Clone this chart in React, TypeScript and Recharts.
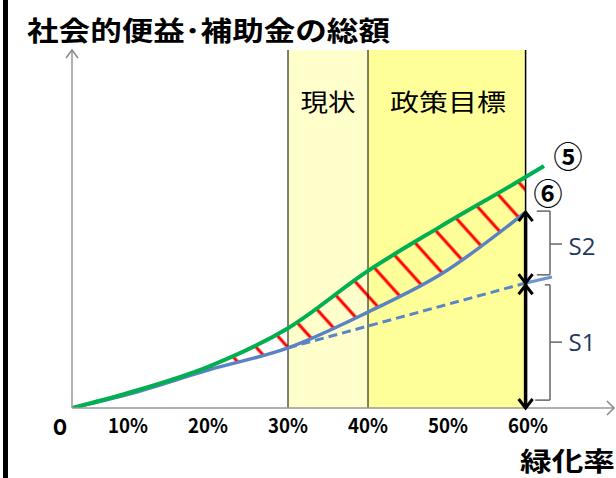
import { Area, ComposedChart, Line, ReferenceArea, ReferenceDot, ReferenceLine, XAxis, YAxis } from 'recharts'

// 緑化率 (%) sample points and the two curves (arbitrary units, 0-100)
const pct = [3, 10, 20, 30, 40, 49, 59.7]
const benefit = [0, 4.2, 11.5, 22.3, 38.3, 50.6, 64.5] // ⑤ 社会的便益
const subsidy = [0, 3.8, 10.6, 16.8, 26.8, 37.2, 54.7] // ⑥ 補助金
const benefitTail = [{ x: 62, y: 67.6 }]
const trendPct = [30, 59.7]
const trend = [16.8, 34.9]
const trendTailPct = [59.7, 63]
const trendTail = [34.9, 36.6]
const tickPct = [10, 20, 30, 40, 50, 60]
const hatchFrom = 2 // hatching starts at 20%

const greenData = pct.map((x, i) => ({ x, y: benefit[i] })).concat(benefitTail)
const blueData = pct.map((x, i) => ({ x, y: subsidy[i] }))
const dashData = trendPct.map((x, i) => ({ x, y: trend[i] }))
const dashTail = trendTailPct.map((x, i) => ({ x, y: trendTail[i] }))
const hatchData = pct.slice(hatchFrom).map((x, i) => ({ x, range: [subsidy[i + hatchFrom], benefit[i + hatchFrom]] }))

const JP = '"Noto Sans CJK JP", sans-serif'

const Tick = ({ x, y, payload }: any) => (
  <text x={x} y={y + 25} textAnchor="middle" fontFamily={JP} fontWeight={700} fontSize={20} fill="#000" textLength={40} lengthAdjust="spacingAndGlyphs">
    {payload.value}%
  </text>
)

const head = (dir: 'up' | 'down' | 'right', color = '#000', w = 3, s = 7) => (p: any) => {
  const { cx, cy } = p
  let d = ''
  if (dir === 'up') d = `M${cx - s} ${cy + s + 2} L${cx} ${cy} L${cx + s} ${cy + s + 2}`
  if (dir === 'down') d = `M${cx - s} ${cy - s - 2} L${cx} ${cy} L${cx + s} ${cy - s - 2}`
  if (dir === 'right') d = `M${cx - s} ${cy - s} L${cx} ${cy} L${cx - s} ${cy + s}`
  return <path d={d} fill="none" stroke={color} strokeWidth={w} />
}

const note = (txt: string, size: number, len: number | undefined, color = '#000', family = JP, weight = 400) => (p: any) => (
  <text x={p.cx} y={p.cy} textAnchor="middle" dominantBaseline="central" fontFamily={family} fontWeight={weight} fontSize={size} fill={color} textLength={len} lengthAdjust={len ? 'spacingAndGlyphs' : undefined}>
    {txt}
  </text>
)

const brace = '#666'
const seg = (x1: number, y1: number, x2: number, y2: number, key: string) => (
  <ReferenceLine key={key} segment={[{ x: x1, y: y1 }, { x: x2, y: y2 }]} stroke={brace} strokeWidth={1.5} ifOverflow="visible" />
)

export default function App() {
  return (
    <div style={{ position: 'absolute', left: 0, top: 0, width: 616, height: 478, background: '#fff' }}>
      <ComposedChart width={616} height={478} margin={{ top: 50, right: 2, bottom: 40, left: 60 }}>
        <XAxis
          dataKey="x"
          type="number"
          domain={[3, 70.75]}
          allowDataOverflow
          ticks={tickPct}
          tick={<Tick />}
          tickLine={false}
          tickSize={0}
          tickMargin={0}
          height={30}
          axisLine={{ stroke: '#999', strokeWidth: 1.5 }}
        />
        <YAxis type="number" domain={[0, 100]} allowDataOverflow tick={false} tickLine={false} width={12} axisLine={{ stroke: '#999', strokeWidth: 1.5 }} />
        <ReferenceArea x1={30} x2={40} y1={0} y2={100} fill="#FFFFCC" fillOpacity={1} stroke="none" />
        <ReferenceArea x1={40} x2={59.7} y1={0} y2={100} fill="#FFFF99" fillOpacity={1} stroke="none" />
        <ReferenceLine x={30} stroke="#000" strokeWidth={1} />
        <ReferenceLine x={40} stroke="#000" strokeWidth={1} />
        <ReferenceLine x={59.7} stroke="#000" strokeWidth={1.5} />
        <ReferenceDot x={35} y={86} r={0} shape={note('現状', 24, 55)} />
        <ReferenceDot x={50} y={86} r={0} shape={note('政策目標', 24, 116)} />

        <Area data={hatchData} dataKey="range" type="monotone" stroke="none" fill="url(#hatch)" fillOpacity={1} isAnimationActive={false} />
        <Line data={dashTail} dataKey="y" type="linear" stroke="#6F95D0" strokeWidth={3} dot={false} isAnimationActive={false} />
        <Line data={dashData} dataKey="y" type="linear" stroke="#5B86C5" strokeWidth={3} strokeDasharray="9 5" dot={false} isAnimationActive={false} />
        <Line data={blueData} dataKey="y" type="monotone" stroke="#5B82C2" strokeWidth={3.5} dot={false} isAnimationActive={false} />
        <Line data={greenData} dataKey="y" type="monotone" stroke="#00B050" strokeWidth={4} dot={false} isAnimationActive={false} />

        <ReferenceLine segment={[{ x: 59.7, y: 54.7 }, { x: 59.7, y: 0 }]} stroke="#000" strokeWidth={3.5} />
        <ReferenceDot x={59.7} y={54.7} r={0} shape={head('up')} />
        <ReferenceDot x={59.7} y={34.9} r={0} shape={head('down')} />
        <ReferenceDot x={59.7} y={34.3} r={0} shape={head('up')} />
        <ReferenceDot x={59.7} y={0} r={0} shape={head('down')} />

        {seg(61.1, 55, 62.75, 55, 'a1')}
        {seg(62.75, 55, 62.75, 37.2, 'a2')}
        {seg(62.75, 37.2, 61.1, 37.2, 'a3')}
        {seg(62.75, 45.8, 64.25, 45.8, 'a4')}
        {seg(62.1, 34.4, 62.75, 34.4, 'b1')}
        {seg(62.75, 34.4, 62.75, 2.2, 'b2')}
        {seg(62.75, 2.2, 60.9, 2.2, 'b3')}
        {seg(62.75, 18.4, 64.25, 18.4, 'b4')}
        <ReferenceDot x={66.75} y={45.2} r={0} shape={note('S2', 23, 27, '#1F3A60', '"Open Sans", sans-serif')} />
        <ReferenceDot x={66.75} y={18.4} r={0} shape={note('S1', 23, 27, '#1F3A60', '"Open Sans", sans-serif')} />
        <ReferenceDot x={65} y={70.7} r={0} shape={note('⑤', 29, undefined, '#000', JP, 700)} />
        <ReferenceDot x={62.5} y={60.3} r={0} shape={note('⑥', 29, undefined, '#000', JP, 700)} />

        <ReferenceDot x={70.75} y={0} r={0} ifOverflow="visible" shape={head('right', '#888', 1.5, 7)} />
        <ReferenceDot x={3} y={100} r={0} ifOverflow="visible" shape={head('up', '#888', 1.5, 6)} />
      </ComposedChart>
      <svg width={616} height={478} style={{ position: 'absolute', left: 0, top: 0, pointerEvents: 'none' }}>
        <defs>
          <pattern id="hatch" patternUnits="userSpaceOnUse" width={23.5} height={23.5} patternTransform="rotate(-42)">
            <line x1={5} y1={0} x2={5} y2={23.5} stroke="#FF0000" strokeWidth={3} />
          </pattern>
        </defs>
        <rect x={3} y={0} width={5} height={478} fill="#000" />
        <text x={27} y={41} fontFamily={JP} fontWeight={700} fontSize={27} textLength={363} lengthAdjust="spacingAndGlyphs">
          社会的便益･補助金の総額
        </text>
        <text x={60} y={435} textAnchor="middle" fontFamily='"DejaVu Sans", sans-serif' fontWeight={700} fontSize={21} textLength={14} lengthAdjust="spacingAndGlyphs">
          O
        </text>
        <text x={520} y={471} fontFamily={JP} fontWeight={700} fontSize={26} textLength={95} lengthAdjust="spacingAndGlyphs">
          緑化率
        </text>
      </svg>
    </div>
  )
}
